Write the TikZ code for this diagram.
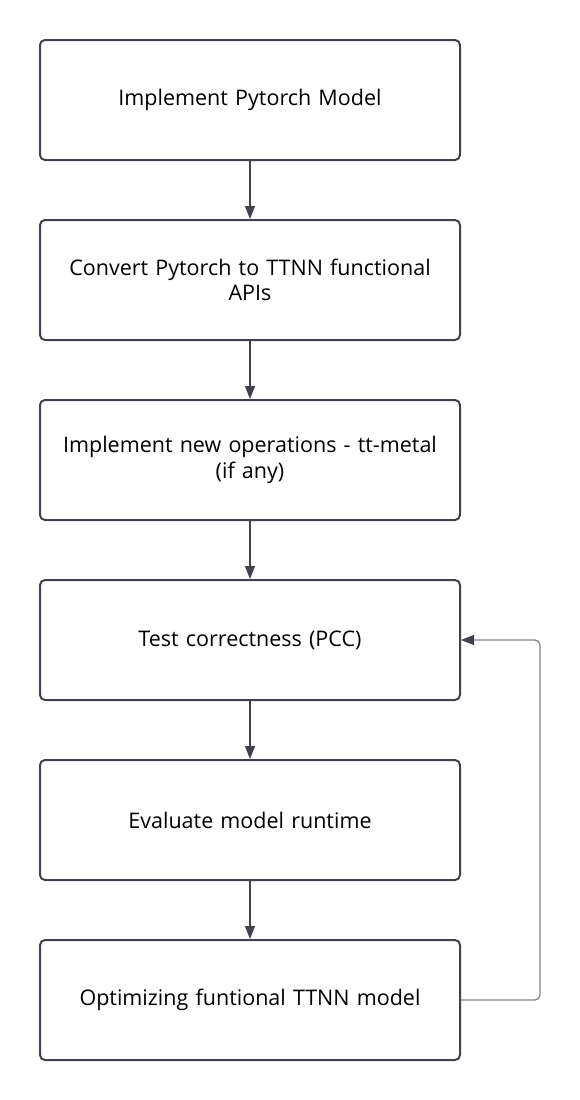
\documentclass[tikz,border=0pt]{standalone}
\usepackage{fontspec}
\setmainfont{Open Sans}
\usetikzlibrary{arrows.meta}
\definecolor{boxc}{HTML}{3D424D}
\definecolor{loopc}{HTML}{7E838A}
\begin{document}
\begin{tikzpicture}[x=1pt,y=-1pt,
  stepbox/.style={draw=boxc,line width=2pt,rounded corners=5pt,minimum width=420pt,minimum height=120pt,align=center,text width=410pt,font=\fontsize{21.5}{25.5}\selectfont,inner sep=0pt},
  conn/.style={draw=boxc,line width=1.2pt,-{Triangle[length=13pt,width=10pt]}},
  loopconn/.style={draw=loopc,line width=1.2pt,rounded corners=5pt,-{Triangle[length=13pt,width=10pt,color=boxc]}}]
\useasboundingbox (0,0) rectangle (580,1100);
\node[stepbox] (b1) at (250,100) {Implement Pytorch Model};
\node[stepbox] (b2) at (250,280) {Convert Pytorch to TTNN functional\\APIs};
\node[stepbox] (b3) at (250,460) {Implement new operations - tt-metal\\(if any)};
\node[stepbox] (b4) at (250,640) {Test correctness (PCC)};
\node[stepbox] (b5) at (250,820) {Evaluate model runtime};
\node[stepbox] (b6) at (250,1000) {Optimizing funtional TTNN model};
\draw[conn] (b1) -- (b2);
\draw[conn] (b2) -- (b3);
\draw[conn] (b3) -- (b4);
\draw[conn] (b4) -- (b5);
\draw[conn] (b5) -- (b6);
\coordinate (c1) at (540,1000);
\coordinate (c2) at (540,640);
\draw[loopconn] (b6.east) -- (c1) -- (c2) -- (b4.east);
\end{tikzpicture}
\end{document}
